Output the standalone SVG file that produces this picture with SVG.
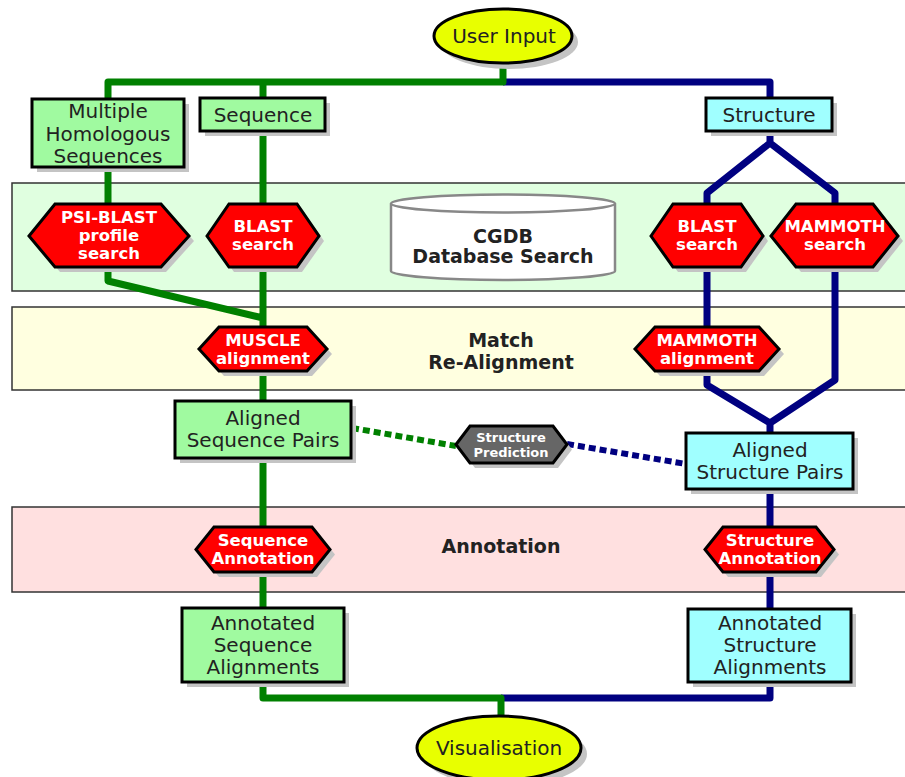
<svg xmlns="http://www.w3.org/2000/svg" width="905" height="777" viewBox="0 0 905 777">
<style>
.band{stroke:#333;stroke-width:1.5}
.g{fill:none;stroke:#008000;stroke-width:7;stroke-linejoin:round}
.b{fill:none;stroke:#000080;stroke-width:7;stroke-linejoin:round}
.sh{fill:#c4c4c4}
.box{stroke:#000;stroke-width:3}
.gb{fill:#a0faa0}
.cb{fill:#a0ffff}
.hex{fill:#ff0000;stroke:#000;stroke-width:3;stroke-linejoin:miter}
.ell{fill:#e8ff00;stroke:#000;stroke-width:3}
text{font-family:"DejaVu Sans",Verdana,sans-serif;text-anchor:middle}
.bt{font-size:20px;fill:#222}
.ht{font-size:16.5px;font-weight:bold;fill:#fff}
.lt{font-size:19px;font-weight:bold;fill:#222}
</style>
<rect width="905" height="777" fill="#fff"/>
<g id="bands">
<rect class="band" x="12" y="183" width="900" height="108" fill="#e0ffe0"/>
<rect class="band" x="12" y="307" width="900" height="83" fill="#ffffe0"/>
<rect class="band" x="12" y="507" width="900" height="85" fill="#ffe0e0"/>
<text class="lt" x="501" y="347">Match</text>
<text class="lt" x="501" y="369">Re-Alignment</text>
<text class="lt" x="501" y="553">Annotation</text>
</g>
<g id="connectors">
<path class="b" d="M503,82 H770 V98"/>
<path class="g" d="M108,99 V82 H503 V63 M263,82 V98"/>
<path class="g" d="M108,167 V204 M263,131 V204 M108,267 V281 L263,318 M263,267 V327 M263,371 V401 M263,458 V527 M263,572 V608"/>
<path class="b" d="M770,131 V143 L707,193 V204 M770,143 L835,193 V204 M707,267 V327 M707,371 V385 L770,423 V433 M835,267 V380 L770,423 M770,489 V527 M770,572 V609"/>
<path class="b" d="M770,682 V698 H501"/>
<path class="g" d="M263,682 V698 H501 V716"/>
<path fill="none" stroke="#008000" stroke-width="6" stroke-dasharray="7,4" d="M352,428 L456,446"/>
<path fill="none" stroke="#000080" stroke-width="6" stroke-dasharray="7,4" d="M567,444 L686,464"/>
</g>
<g id="user-input">
<ellipse class="sh" cx="509" cy="42" rx="69" ry="27"/>
<ellipse class="ell" cx="503" cy="36" rx="69" ry="27"/>
<text class="bt" x="504" y="43">User Input</text>
</g>
<g id="multiple">
<rect class="sh" x="37" y="104" width="152" height="68"/>
<rect class="box gb" x="32" y="99" width="152" height="68"/>
<text class="bt" x="108" y="118">Multiple</text>
<text class="bt" x="108" y="141">Homologous</text>
<text class="bt" x="108" y="163">Sequences</text>
</g>
<g id="sequence">
<rect class="sh" x="205" y="103" width="125" height="33"/>
<rect class="box gb" x="200" y="98" width="125" height="33"/>
<text class="bt" x="263" y="122">Sequence</text>
</g>
<g id="structure">
<rect class="sh" x="711" y="103" width="126" height="33"/>
<rect class="box cb" x="706" y="98" width="126" height="33"/>
<text class="bt" x="769" y="122">Structure</text>
</g>
<g id="psi-blast">
<polygon class="sh" transform="translate(5,5)" points="29,236 55,204 161,204 189,236 161,267 55,267"/>
<polygon class="hex" points="29,236 55,204 161,204 189,236 161,267 55,267"/>
<text class="ht" x="109" y="223">PSI-BLAST</text>
<text class="ht" x="109" y="241">profile</text>
<text class="ht" x="109" y="259">search</text>
</g>
<g id="blast-seq">
<polygon class="sh" transform="translate(5,5)" points="207,236 229,204 297,204 319,236 297,267 229,267"/>
<polygon class="hex" points="207,236 229,204 297,204 319,236 297,267 229,267"/>
<text class="ht" x="263" y="232">BLAST</text>
<text class="ht" x="263" y="250">search</text>
</g>
<g id="cgdb">
<path d="M391,203.5 V271 A112,9 0 0 0 615,271 V203.5" fill="#fff" stroke="#888" stroke-width="2.5"/>
<ellipse cx="503" cy="203.5" rx="112" ry="9" fill="#fff" stroke="#888" stroke-width="2.5"/>
<text class="lt" x="503" y="243">CGDB</text>
<text class="lt" x="503" y="263">Database Search</text>
</g>
<g id="blast-str">
<polygon class="sh" transform="translate(5,5)" points="651,236 673,204 741,204 763,236 741,267 673,267"/>
<polygon class="hex" points="651,236 673,204 741,204 763,236 741,267 673,267"/>
<text class="ht" x="707" y="232">BLAST</text>
<text class="ht" x="707" y="250">search</text>
</g>
<g id="mammoth-search">
<polygon class="sh" transform="translate(5,5)" points="771,236 796,204 873,204 898,236 873,267 796,267"/>
<polygon class="hex" points="771,236 796,204 873,204 898,236 873,267 796,267"/>
<text class="ht" x="835" y="232">MAMMOTH</text>
<text class="ht" x="835" y="250">search</text>
</g>
<g id="muscle">
<polygon class="sh" transform="translate(5,5)" points="199,349 219,327 307,327 327,349 307,371 219,371"/>
<polygon class="hex" points="199,349 219,327 307,327 327,349 307,371 219,371"/>
<text class="ht" x="263" y="346">MUSCLE</text>
<text class="ht" x="263" y="364">alignment</text>
</g>
<g id="mammoth-align">
<polygon class="sh" transform="translate(5,5)" points="635,349 655,327 759,327 779,349 759,371 655,371"/>
<polygon class="hex" points="635,349 655,327 759,327 779,349 759,371 655,371"/>
<text class="ht" x="707" y="346">MAMMOTH</text>
<text class="ht" x="707" y="364">alignment</text>
</g>
<g id="aligned-seq">
<rect class="sh" x="180" y="406" width="176" height="57"/>
<rect class="box gb" x="175" y="401" width="176" height="57"/>
<text class="bt" x="263" y="425">Aligned</text>
<text class="bt" x="263" y="447">Sequence Pairs</text>
</g>
<g id="structure-prediction">
<polygon class="sh" transform="translate(5,5)" points="456,444.5 470,426 553,426 567,444.5 553,463 470,463"/>
<polygon points="456,444.5 470,426 553,426 567,444.5 553,463 470,463" fill="#666" stroke="#000" stroke-width="3"/>
<text x="511" y="442" font-size="13px" font-weight="bold" fill="#fff">Structure</text>
<text x="511" y="457" font-size="13px" font-weight="bold" fill="#fff">Prediction</text>
</g>
<g id="aligned-str">
<rect class="sh" x="691" y="438" width="167" height="56"/>
<rect class="box cb" x="686" y="433" width="167" height="56"/>
<text class="bt" x="770" y="457">Aligned</text>
<text class="bt" x="770" y="479">Structure Pairs</text>
</g>
<g id="seq-annotation">
<polygon class="sh" transform="translate(5,5)" points="196,549.5 214,527 312,527 330,549.5 312,572 214,572"/>
<polygon class="hex" points="196,549.5 214,527 312,527 330,549.5 312,572 214,572"/>
<text class="ht" x="263" y="546">Sequence</text>
<text class="ht" x="263" y="564">Annotation</text>
</g>
<g id="str-annotation">
<polygon class="sh" transform="translate(5,5)" points="705,549.5 723,527 816,527 834,549.5 816,572 723,572"/>
<polygon class="hex" points="705,549.5 723,527 816,527 834,549.5 816,572 723,572"/>
<text class="ht" x="770" y="546">Structure</text>
<text class="ht" x="770" y="564">Annotation</text>
</g>
<g id="annotated-seq">
<rect class="sh" x="187" y="613" width="162" height="74"/>
<rect class="box gb" x="182" y="608" width="162" height="74"/>
<text class="bt" x="263" y="630">Annotated</text>
<text class="bt" x="263" y="652">Sequence</text>
<text class="bt" x="263" y="674">Alignments</text>
</g>
<g id="annotated-str">
<rect class="sh" x="693" y="614" width="163" height="73"/>
<rect class="box cb" x="688" y="609" width="163" height="73"/>
<text class="bt" x="770" y="630">Annotated</text>
<text class="bt" x="770" y="652">Structure</text>
<text class="bt" x="770" y="674">Alignments</text>
</g>
<g id="visualisation">
<ellipse class="sh" cx="505" cy="754" rx="82" ry="32"/>
<ellipse class="ell" cx="499" cy="748" rx="82" ry="32"/>
<text class="bt" x="499" y="755">Visualisation</text>
</g>
</svg>
